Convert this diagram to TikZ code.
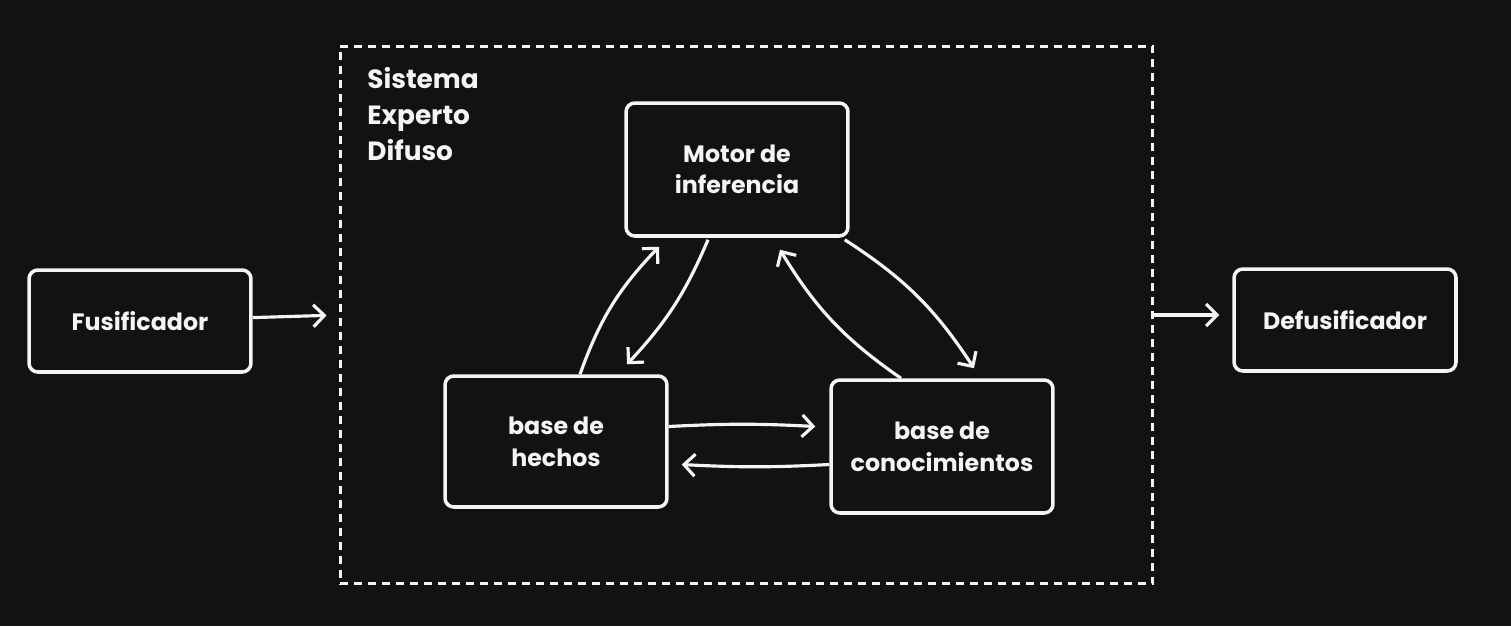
\documentclass[tikz,border=0pt]{standalone}
\usepackage{fontspec}
\setmainfont{Poppins}
\usetikzlibrary{arrows.meta,calc}
\definecolor{bgdark}{RGB}{18,18,18}
\definecolor{inkwhite}{RGB}{244,244,244}
\tikzset{
  block/.style={draw=inkwhite, line width=2pt, rounded corners=5pt,
    minimum width=4.44cm, align=center, text=inkwhite,
    font=\fontsize{13.5}{18}\selectfont\bfseries},
  link/.style={draw=inkwhite, line width=1.8pt,
    -{Straight Barb[length=2.2mm,width=4.4mm,line width=1.8pt]}},
  frame/.style={draw=inkwhite, line width=1.7pt, dash pattern=on 0.16cm off 0.12cm,
    minimum width=16.26cm, minimum height=10.76cm},
}
\begin{document}
\begin{tikzpicture}[x=0.02cm,y=-0.02cm]
% background
\fill[bgdark] (0,0) rectangle (1511,626);
\useasboundingbox (0,0) rectangle (1511,626);

% outer blocks
\node[block, minimum height=2.04cm] (fus) at (140,321) {Fusificador};
\node[block, minimum height=2.04cm] (defus) at (1345,320) {Defusificador};

% dashed system frame
\node[frame] (sistema) at (746.5,315) {};
\node[anchor=north west, inner sep=0pt, align=left, text=inkwhite,
  font=\fontsize{15}{20.5}\selectfont\bfseries] (titulo) at (367,67) {Sistema\\Experto\\Difuso};

% inner blocks
\node[block, minimum height=2.66cm] (motor) at (737,169.5) {Motor de\\inferencia};
\node[block, minimum height=2.62cm] (hechos) at (556,441.5) {base de\\hechos};
\node[block, minimum height=2.66cm] (conoc) at (942,446.5) {base de\\conocimientos};

% in and out
\draw[link, shorten >=0.24cm] (fus) -- (sistema.west);
\draw[link, shorten >=0.26cm] (sistema.east) -- (sistema.east -| defus.west);

% inner links
\draw[link] ($(hechos.north)+(24,0)$) to[bend left=12] ($(motor.south)+(-78,9)$);
\draw[link] ($(motor.south)+(-29,2)$) to[bend left=10] ($(hechos.north)+(71,-10)$);
\draw[link] ($(motor.south east)+(-5,2)$) to[bend left=12] ($(conoc.north)+(32,-10)$);
\draw[link] ($(conoc.north)+(-41,0)$) to[bend left=12] ($(motor.south)+(43,12)$);
\draw[link] ($(hechos.east)+(0,-15)$) to[bend left=3] ($(conoc.west)+(-14,-20)$);
\draw[link] ($(conoc.west)+(0,18)$) to[bend left=3] ($(hechos.east)+(13,23)$);
\end{tikzpicture}
\end{document}
